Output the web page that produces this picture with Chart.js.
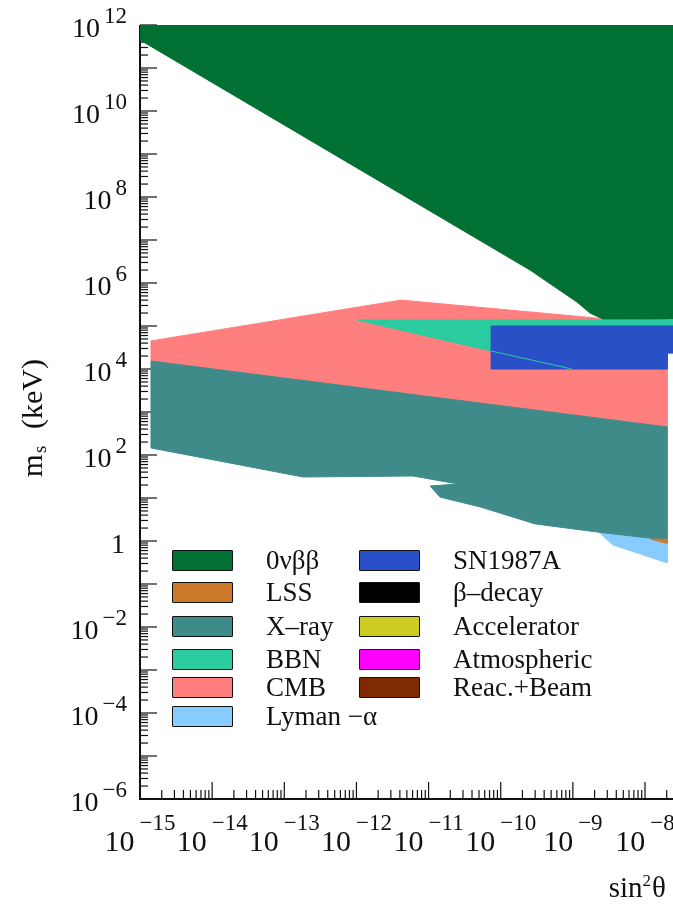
<!DOCTYPE html>
<html>
<head>
<meta charset="utf-8">
<script src="https://cdn.jsdelivr.net/npm/chart.js@4/dist/chart.umd.min.js"></script>
<style>
  html, body { margin: 0; padding: 0; background: #fff; }
  #wrap { position: relative; width: 673px; height: 908px; overflow: hidden; }
  #legend { position: absolute; left: 0; top: 0; font-family: 'Liberation Serif', 'Times New Roman', serif; font-size: 27px; color: #111; }
  .item { position: absolute; display: flex; align-items: center; height: 21px; white-space: nowrap; }
  .box { box-sizing: border-box; width: 61px; height: 21px; border: 1.5px solid #111; border-radius: 1px; margin-right: 33px; }
</style>
</head>
<body>
<div id="wrap">
  <canvas id="chart" width="673" height="908"></canvas>
  <div id="legend"></div>
</div>
<script>
// axis ranges (sin^2 theta, m_s in keV)
const xMin = 1e-15, xMax = Math.pow(10, -7.612);
const yMin = 1e-6, yMax = 1e12;
const xDecades = [-15, -14, -13, -12, -11, -10, -9, -8];
const yDecades = [-6, -5, -4, -3, -2, -1, 0, 1, 2, 3, 4, 5, 6, 7, 8, 9, 10, 11, 12];
const yLabelDecades = [-6, -4, -2, 0, 2, 4, 6, 8, 10, 12];

// excluded regions (polygon outlines)
const onbbX  = [1e-15, 1e-7, 1e-7, 2.6e-9, 1.73e-9, 1.14e-9, 2.55e-10, 1e-15];
const onbbY  = [1e12, 1e12, 1.46e5, 1.46e5, 2.0e5, 3.6e5, 2.0e6, 4.5e11];

const lssX   = [1.2e-8, 2.02e-8, 2.02e-8];
const lssY   = [1.1, 1.1, 0.88];

const xrayX  = [1.42e-15, 2.02e-8, 2.02e-8, 2.3e-9, 3.0e-10, 5.2e-11, 1.44e-11, 1.05e-11, 2.56e-11, 6.1e-12, 1.82e-13, 1.42e-15];
const xrayY  = [1.53e4, 450, 1.05, 1.6, 2.5, 6.2, 10.5, 19, 21.2, 32.5, 30.8, 146];

const bbnX   = [1.02e-12, 1e-7, 1e-7, 2.02e-8, 2.02e-8, 9.7e-10, 7.35e-11];
const bbnY   = [1.38e5, 1.38e5, 2.35e4, 2.35e4, 1.0e4, 1.0e4, 2.62e4];

const cmbX   = [1.42e-15, 4.15e-12, 2.4e-9, 2.02e-8, 2.02e-8, 1.42e-15];
const cmbY   = [4.5e4, 4.0e5, 1.5e5, 1.38e5, 450, 1.53e4];

const lymanX = [2.3e-9, 2.02e-8, 2.02e-8, 3.6e-9];
const lymanY = [1.6, 1.05, 0.31, 0.81];

const snX    = [7.35e-11, 1e-7, 1e-7, 2.02e-8, 2.02e-8, 7.35e-11];
const snY    = [1e5, 1e5, 2.35e4, 2.35e4, 1e4, 1e4];

const regionLabels = ['0νββ', 'LSS', 'X–ray', 'BBN', 'CMB', 'Lyman −α', 'SN1987A', 'β–decay', 'Accelerator', 'Atmospheric', 'Reac.+Beam'];
const regionColors = ['#007033', '#cc7a29', '#3e8b89', '#2acca0', '#ff7f7f', '#88ccff', '#2a50c8', '#000000', '#cccc22', '#ff00ff', '#7f2a00'];
// z order: lower is drawn on top
const regionOrder  = [0, 3, 4, 2, 6, 5, 1, 7, 7, 7, 7];
const regionXs = [onbbX, lssX, xrayX, bbnX, cmbX, lymanX, snX, [], [], [], []];
const regionYs = [onbbY, lssY, xrayY, bbnY, cmbY, lymanY, snY, [], [], [], []];

const FONT = "'Liberation Serif', 'Times New Roman', serif";
const INK = '#111';

const toPoints = (xs, ys) => xs.map((x, i) => ({x: x, y: ys[i]}));

const datasets = regionLabels.map((label, i) => {
    const pts = toPoints(regionXs[i], regionYs[i]);
    if (pts.length) pts.push(pts[0]); // close the outline
    return {
        label: label,
        data: pts,
        showLine: true,
        fill: 'shape',
        backgroundColor: regionColors[i],
        borderColor: regionColors[i],
        borderWidth: 1,
        pointRadius: 0,
        order: regionOrder[i]
    };
});

// thin BBN edge that shows through the SN1987A box
datasets.push({
    label: '',
    noLegend: true,
    data: toPoints(bbnX.slice(5), bbnY.slice(5)),
    showLine: true,
    fill: false,
    borderColor: regionColors[3],
    borderWidth: 1,
    pointRadius: 0,
    order: -1
});

function line(ctx, x1, y1, x2, y2) {
    ctx.beginPath();
    ctx.moveTo(x1, y1);
    ctx.lineTo(x2, y2);
    ctx.stroke();
}

function expText(e) {
    return e < 0 ? '\u2212' + Math.abs(e) : String(e);
}

const axesPlugin = {
    id: 'rootAxes',
    beforeDatasetsDraw(chart) {
        const {ctx, chartArea: a, scales: {x, y}} = chart;
        ctx.save();
        ctx.strokeStyle = INK;

        // ticks point inwards
        ctx.lineWidth = 1.2;
        yDecades.forEach(d => {
            const py = y.getPixelForValue(Math.pow(10, d));
            line(ctx, a.left, py, a.left + 17, py);
            if (d < yDecades[yDecades.length - 1]) {
                for (let k = 2; k <= 9; k++) {
                    const p = y.getPixelForValue(k * Math.pow(10, d));
                    line(ctx, a.left, p, a.left + 8, p);
                }
            }
        });
        xDecades.forEach(d => {
            const px = x.getPixelForValue(Math.pow(10, d));
            line(ctx, px, a.bottom, px, a.bottom - 17);
            for (let k = 2; k <= 9; k++) {
                const v = k * Math.pow(10, d);
                if (v > xMax) break;
                const p = x.getPixelForValue(v);
                line(ctx, p, a.bottom, p, a.bottom - 9);
            }
        });

        ctx.lineWidth = 2;
        ctx.beginPath();
        ctx.moveTo(a.left, a.top);
        ctx.lineTo(a.left, a.bottom);
        ctx.lineTo(a.right, a.bottom);
        ctx.stroke();
        ctx.restore();
    },
    afterDraw(chart) {
        const {ctx, scales: {x, y}} = chart;
        ctx.save();
        ctx.fillStyle = INK;
        ctx.textBaseline = 'alphabetic';

        // y tick labels
        yLabelDecades.forEach(d => {
            const py = y.getPixelForValue(Math.pow(10, d));
            ctx.textAlign = 'right';
            if (d === 0) {
                ctx.font = '28px ' + FONT;
                ctx.fillText('1', 125, py + 12);
                return;
            }
            ctx.font = '23px ' + FONT;
            const sup = expText(d);
            const w = ctx.measureText(sup).width;
            ctx.fillText(sup, 127, py - 2);
            ctx.font = '28px ' + FONT;
            ctx.fillText('10', 127 - w - 4, py + 12);
        });

        // x tick labels
        ctx.textAlign = 'left';
        xDecades.forEach(d => {
            const px = x.getPixelForValue(Math.pow(10, d));
            const sup = expText(d);
            ctx.font = '30px ' + FONT;
            const wb = ctx.measureText('10').width;
            ctx.font = '23px ' + FONT;
            const ws = ctx.measureText(sup).width;
            const x0 = px - (wb + 5 + ws) / 2;
            ctx.fillText(sup, x0 + wb + 5, 830);
            ctx.font = '30px ' + FONT;
            ctx.fillText('10', x0, 851);
        });

        // x title: sin^2 theta
        ctx.font = '29px ' + FONT;
        const wTheta = ctx.measureText('\u03b8').width;
        const wSin = ctx.measureText('sin').width;
        ctx.font = '17px ' + FONT;
        const wTwo = ctx.measureText('2').width;
        let tx = 666 - wTheta - wTwo - wSin - 1;
        ctx.font = '29px ' + FONT;
        ctx.fillText('sin', tx, 897);
        ctx.font = '17px ' + FONT;
        ctx.fillText('2', tx + wSin, 886);
        ctx.font = '29px ' + FONT;
        ctx.fillText('\u03b8', tx + wSin + wTwo + 1, 897);

        // y title: m_s (keV), rotated
        ctx.translate(42, 477);
        ctx.rotate(-Math.PI / 2);
        ctx.font = '29px ' + FONT;
        ctx.fillText('m', 0, 0);
        ctx.font = '19px ' + FONT;
        ctx.fillText('s', 24, 4);
        ctx.font = '30px ' + FONT;
        ctx.fillText('(keV)', 48, 0);
        ctx.restore();
    }
};

const chart = new Chart(document.getElementById('chart').getContext('2d'), {
    type: 'scatter',
    data: { datasets: datasets },
    options: {
        responsive: false,
        animation: false,
        layout: { padding: { left: 140, top: 25, right: 0, bottom: 109 } },
        scales: {
            x: { type: 'logarithmic', min: xMin, max: xMax, display: false },
            y: { type: 'logarithmic', min: yMin, max: yMax, display: false }
        },
        plugins: {
            legend: { display: false },
            tooltip: { enabled: false }
        }
    },
    plugins: [axesPlugin]
});

// two-column legend inside the frame, built from the datasets
const legendRows = [550, 582, 616, 649, 677, 706];
const legendCols = [172, 359];
const legendEl = document.getElementById('legend');
chart.data.datasets.filter(ds => !ds.noLegend).forEach((ds, i) => {
    const col = i < 6 ? 0 : 1;
    const row = i < 6 ? i : i - 6;
    const item = document.createElement('div');
    item.className = 'item';
    item.style.left = legendCols[col] + 'px';
    item.style.top = legendRows[row] + 'px';
    const box = document.createElement('span');
    box.className = 'box';
    box.style.background = ds.backgroundColor;
    const text = document.createElement('span');
    text.textContent = ds.label;
    item.appendChild(box);
    item.appendChild(text);
    legendEl.appendChild(item);
});
</script>
</body>
</html>
